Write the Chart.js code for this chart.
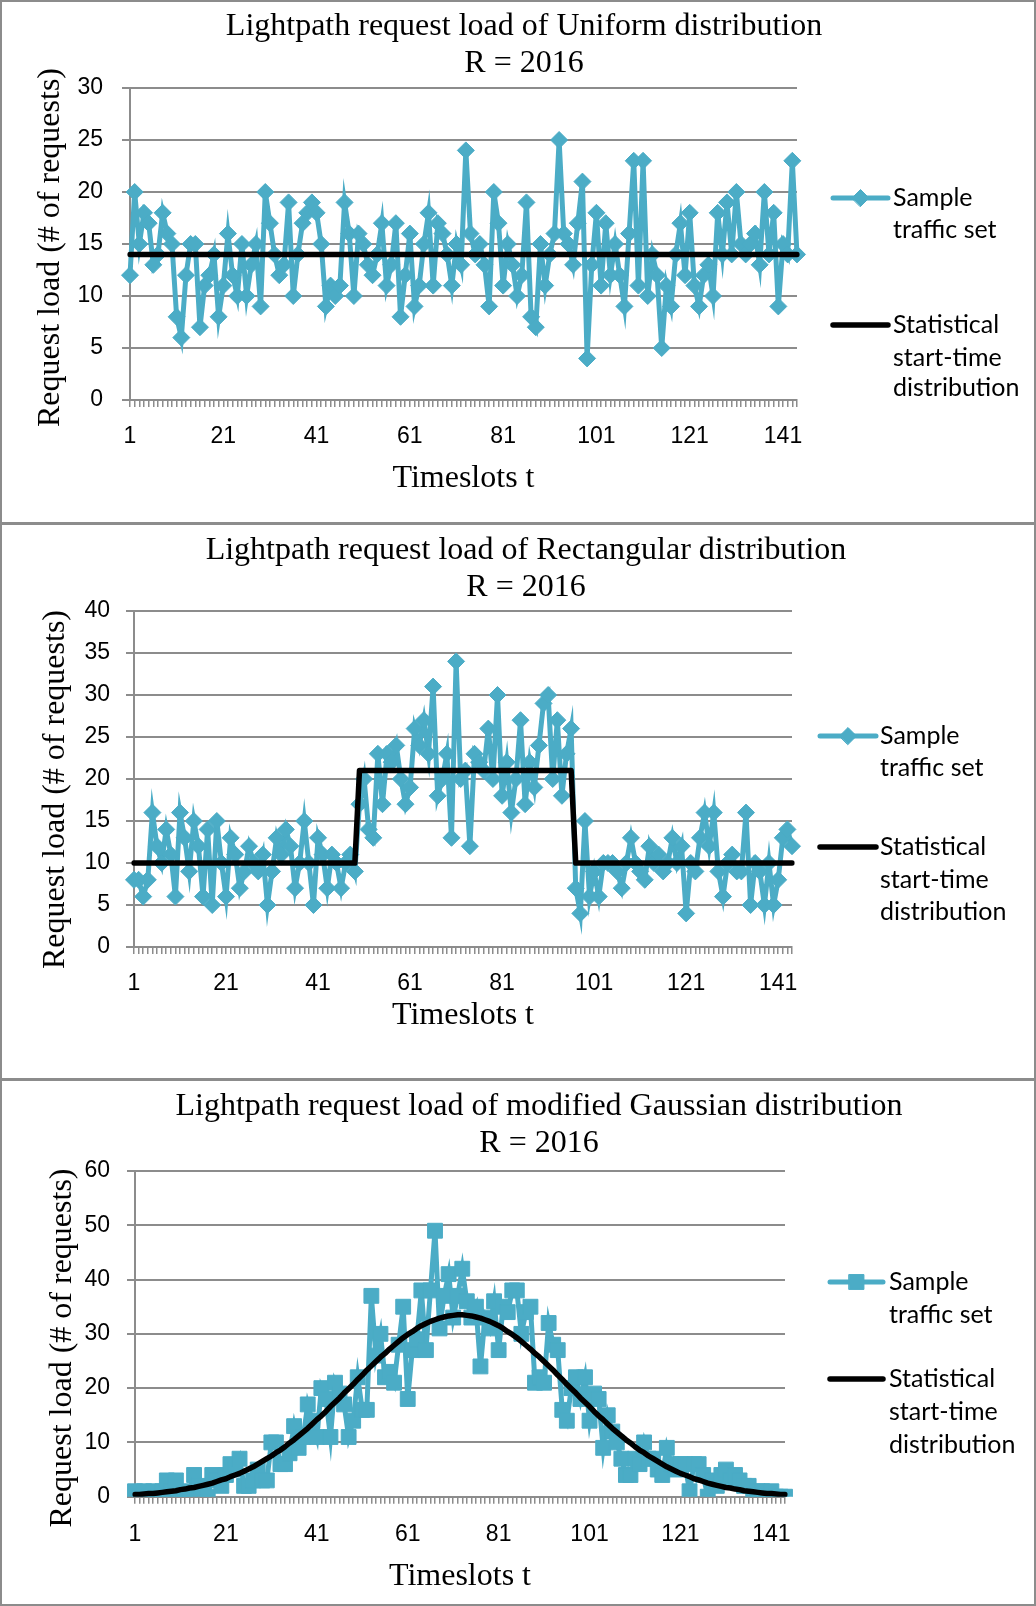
<!DOCTYPE html>
<html>
<head>
<meta charset="utf-8">
<title>Lightpath request load</title>
<script src="https://cdn.jsdelivr.net/npm/chart.js@4.4.1/dist/chart.umd.min.js"></script>
<style>
body { margin: 0; background: #fff; }
#page { position: relative; width: 1036px; height: 1606px; overflow: hidden; }
#page canvas { position: absolute; left: 0; }
.rule { position: absolute; left: 0; width: 1036px; background: #8c8c8c; }
#frame { position: absolute; left: 0; top: 0; width: 1036px; height: 1606px; box-sizing: border-box; border: 2px solid #8c8c8c; pointer-events: none; }
</style>
</head>
<body>
<div id="page">
  <canvas id="uniform" width="1036" height="522" style="top:0"></canvas>
  <canvas id="rectangular" width="1036" height="553" style="top:525px"></canvas>
  <canvas id="gaussian" width="1036" height="525" style="top:1081px"></canvas>
  <div class="rule" style="top:522px;height:3px"></div>
  <div class="rule" style="top:1078px;height:3px"></div>
  <div id="frame"></div>
</div>
<script>
// timeslots 1..144 (R = 2016 requests spread over 144 slots)
var timeslots = [];
for (var t = 1; t <= 144; t++) timeslots.push(t);

var uniformSample = [
  12, 20, 15, 18, 17, 13, 14, 18, 16, 15, 8, 6,
  12, 15, 15, 7, 11, 12, 14, 8, 11, 16, 12, 10,
  15, 10, 13, 15, 9, 20, 17, 14, 12, 13, 19, 10,
  14, 17, 18, 19, 18, 15, 9, 11, 10, 11, 19, 16,
  10, 16, 15, 13, 12, 14, 17, 11, 13, 17, 8, 12,
  16, 9, 11, 15, 18, 11, 17, 16, 14, 11, 15, 13,
  24, 16, 14, 15, 13, 9, 20, 17, 11, 15, 13, 10,
  12, 19, 8, 7, 15, 11, 14, 16, 25, 16, 15, 13,
  17, 21, 4, 13, 18, 11, 17, 12, 15, 12, 9, 16,
  23, 11, 23, 10, 14, 12, 5, 11, 9, 14, 17, 12,
  18, 11, 9, 12, 13, 10, 18, 14, 19, 14, 20, 15,
  14, 15, 16, 13, 20, 14, 18, 9, 15, 14, 23, 14
];
var uniformStat = [
  14, 14, 14, 14, 14, 14, 14, 14, 14, 14, 14, 14, 14, 14, 14, 14, 14, 14, 14, 14, 14, 14, 14, 14,
  14, 14, 14, 14, 14, 14, 14, 14, 14, 14, 14, 14, 14, 14, 14, 14, 14, 14, 14, 14, 14, 14, 14, 14,
  14, 14, 14, 14, 14, 14, 14, 14, 14, 14, 14, 14, 14, 14, 14, 14, 14, 14, 14, 14, 14, 14, 14, 14,
  14, 14, 14, 14, 14, 14, 14, 14, 14, 14, 14, 14, 14, 14, 14, 14, 14, 14, 14, 14, 14, 14, 14, 14,
  14, 14, 14, 14, 14, 14, 14, 14, 14, 14, 14, 14, 14, 14, 14, 14, 14, 14, 14, 14, 14, 14, 14, 14,
  14, 14, 14, 14, 14, 14, 14, 14, 14, 14, 14, 14, 14, 14, 14, 14, 14, 14, 14, 14, 14, 14, 14, 14
];

var rectSample = [
  8, 8, 6, 8, 16, 12, 10, 14, 11, 6, 16, 13,
  9, 15, 12, 6, 14, 5, 15, 10, 6, 13, 11, 7,
  9, 12, 10, 9, 11, 5, 9, 13, 11, 14, 12, 7,
  10, 15, 10, 5, 13, 11, 7, 11, 10, 7, 10, 11,
  9, 17, 20, 14, 13, 23, 17, 23, 22, 24, 20, 17,
  19, 26, 24, 27, 23, 31, 18, 20, 23, 13, 34, 20,
  21, 12, 23, 22, 21, 26, 20, 30, 18, 22, 16, 20,
  27, 17, 22, 19, 24, 29, 30, 20, 27, 18, 23, 26,
  7, 4, 15, 6, 9, 6, 10, 10, 10, 9, 7, 10,
  13, 10, 9, 8, 12, 10, 11, 9, 10, 13, 10, 12,
  4, 10, 9, 13, 16, 12, 16, 9, 6, 10, 11, 9,
  9, 16, 5, 10, 9, 5, 10, 5, 8, 13, 14, 12
];
var rectStat = [
  10, 10, 10, 10, 10, 10, 10, 10, 10, 10, 10, 10, 10, 10, 10, 10, 10, 10, 10, 10, 10, 10, 10, 10,
  10, 10, 10, 10, 10, 10, 10, 10, 10, 10, 10, 10, 10, 10, 10, 10, 10, 10, 10, 10, 10, 10, 10, 10,
  10, 21, 21, 21, 21, 21, 21, 21, 21, 21, 21, 21, 21, 21, 21, 21, 21, 21, 21, 21, 21, 21, 21, 21,
  21, 21, 21, 21, 21, 21, 21, 21, 21, 21, 21, 21, 21, 21, 21, 21, 21, 21, 21, 21, 21, 21, 21, 21,
  10, 10, 10, 10, 10, 10, 10, 10, 10, 10, 10, 10, 10, 10, 10, 10, 10, 10, 10, 10, 10, 10, 10, 10,
  10, 10, 10, 10, 10, 10, 10, 10, 10, 10, 10, 10, 10, 10, 10, 10, 10, 10, 10, 10, 10, 10, 10, 10
];

var gaussSample = [
  1, 0, 1, 0, 1, 0, 1, 3, 1, 3, 0, 0,
  1, 4, 2, 1, 0, 4, 3, 2, 4, 6, 5, 7,
  2, 2, 3, 5, 3, 3, 10, 10, 6, 6, 8, 13,
  9, 11, 17, 14, 11, 20, 18, 11, 21, 19, 17, 11,
  14, 22, 16, 16, 37, 26, 30, 22, 23, 21, 28, 35,
  18, 27, 29, 38, 27, 38, 49, 31, 37, 41, 33, 37,
  42, 36, 33, 35, 24, 33, 31, 36, 27, 35, 34, 38,
  38, 30, 34, 35, 21, 22, 21, 32, 28, 27, 16, 14,
  20, 22, 18, 22, 14, 19, 18, 9, 15, 12, 10, 7,
  4, 4, 7, 6, 10, 7, 7, 5, 4, 9, 6, 5,
  6, 6, 1, 6, 6, 4, 0, 3, 2, 4, 5, 3,
  4, 3, 2, 2, 0, 1, 1, 0, 1, 0, 0, 0
];
var gaussStat = [
  0.4, 0.4, 0.5, 0.6, 0.6, 0.7, 0.8, 0.9, 1.0, 1.1, 1.3, 1.4,
  1.6, 1.7, 1.9, 2.1, 2.3, 2.5, 2.8, 3.1, 3.3, 3.7, 4.0, 4.3,
  4.7, 5.1, 5.5, 6.0, 6.5, 7.0, 7.5, 8.1, 8.6, 9.2, 9.9, 10.5,
  11.2, 11.9, 12.6, 13.4, 14.2, 14.9, 15.7, 16.6, 17.4, 18.2, 19.1, 19.9,
  20.7, 21.6, 22.4, 23.3, 24.1, 24.9, 25.7, 26.4, 27.2, 27.9, 28.6, 29.3,
  29.9, 30.4, 31.0, 31.5, 31.9, 32.3, 32.6, 32.9, 33.1, 33.3, 33.4, 33.5,
  33.5, 33.4, 33.3, 33.1, 32.9, 32.6, 32.3, 31.9, 31.5, 31.0, 30.4, 29.9,
  29.3, 28.6, 27.9, 27.2, 26.4, 25.7, 24.9, 24.1, 23.3, 22.4, 21.6, 20.7,
  19.9, 19.1, 18.2, 17.4, 16.6, 15.7, 14.9, 14.2, 13.4, 12.6, 11.9, 11.2,
  10.5, 9.9, 9.2, 8.6, 8.1, 7.5, 7.0, 6.5, 6.0, 5.5, 5.1, 4.7,
  4.3, 4.0, 3.7, 3.3, 3.1, 2.8, 2.5, 2.3, 2.1, 1.9, 1.7, 1.6,
  1.4, 1.3, 1.1, 1.0, 0.9, 0.8, 0.7, 0.6, 0.6, 0.5, 0.4, 0.4
];

var teal = '#4bacc6';
var grey = '#8c8c8c';
var tickFont = { family: 'Liberation Sans', size: 23 };
var titleFont = { family: 'Liberation Serif', size: 32 };
var yTitle = 'Request load (# of requests)';

// chart title, y-axis title and the two-entry legend on the right
function panelText(p) {
  return {
    id: 'panelText',
    afterDraw: function(chart) {
      var ctx = chart.ctx;
      var lg = p.legend;
      var midX = (lg.lineX[0] + lg.lineX[1]) / 2;
      ctx.save();
      ctx.fillStyle = '#000';
      ctx.textBaseline = 'middle';
      ctx.textAlign = 'center';
      ctx.font = '32px "Liberation Serif"';
      p.title.forEach(function(line, i) { ctx.fillText(line, p.titleX, p.titleY[i]); });

      ctx.save();
      ctx.translate(p.yTitleAt[0], p.yTitleAt[1]);
      ctx.rotate(-Math.PI / 2);
      ctx.fillText(yTitle, 0, 0);
      ctx.restore();

      ctx.textAlign = 'left';
      lg.items.forEach(function(item) {
        var ds = chart.data.datasets[item.dataset];
        var y = item.y[0];
        ctx.strokeStyle = ds.borderColor;
        ctx.lineWidth = ds.borderWidth;
        ctx.lineCap = 'round';
        ctx.beginPath();
        ctx.moveTo(lg.lineX[0], y);
        ctx.lineTo(lg.lineX[1], y);
        ctx.stroke();
        if (ds.pointRadius) {
          ctx.fillStyle = ds.pointBackgroundColor;
          ctx.lineWidth = ds.pointBorderWidth;
          Chart.helpers.drawPoint(ctx, { pointStyle: ds.pointStyle, radius: ds.pointRadius, borderWidth: ds.pointBorderWidth, rotation: 0 }, midX, y);
        }
        ctx.fillStyle = '#000';
        ctx.font = '25px Lato';
        item.text.forEach(function(line, j) { ctx.fillText(line, lg.textX, item.y[j]); });
      });
      ctx.restore();
    }
  };
}

function buildChart(id, p) {
  return new Chart(document.getElementById(id), {
    type: 'line',
    data: {
      labels: timeslots,
      datasets: [{
        label: 'Sample traffic set',
        data: p.sample,
        borderColor: teal,
        backgroundColor: teal,
        borderWidth: 5,
        tension: 0,
        pointStyle: p.marker,
        pointRadius: p.markerRadius,
        pointBorderWidth: 1,
        pointBackgroundColor: teal,
        pointBorderColor: teal,
        order: 1
      }, {
        label: 'Statistical start-time distribution',
        data: p.statistical,
        borderColor: '#000',
        borderWidth: 5.5,
        borderCapStyle: 'round',
        borderJoinStyle: 'round',
        pointRadius: 0,
        tension: 0,
        order: 0
      }]
    },
    options: {
      responsive: false,
      animation: false,
      events: [],
      layout: { padding: { top: p.area.top, right: 1036 - p.area.right, bottom: 0, left: 0 } },
      plugins: { legend: { display: false }, tooltip: { enabled: false } },
      scales: {
        x: {
          type: 'category',
          offset: false,
          grid: { drawOnChartArea: false, tickLength: 7, color: grey, lineWidth: 1.5 },
          border: { color: grey, width: 2 },
          ticks: {
            autoSkip: false,
            maxRotation: 0,
            minRotation: 0,
            padding: p.xTickPad,
            color: '#000',
            font: tickFont,
            callback: function(value, index) { return index % 20 === 0 ? timeslots[index] : ''; }
          },
          title: { display: true, text: 'Timeslots t', color: '#000', font: titleFont, padding: { top: 0, bottom: p.xTitlePad } },
          afterFit: function(scale) { scale.height = p.height - p.area.bottom; }
        },
        y: {
          min: 0,
          max: p.yMax,
          grid: { color: grey, lineWidth: 2, tickLength: 8 },
          border: { color: grey, width: 2 },
          ticks: { stepSize: p.yStep, padding: p.yTickPad, color: '#000', font: tickFont },
          afterFit: function(scale) { scale.width = p.area.left; }
        }
      }
    },
    plugins: [panelText(p)]
  });
}

buildChart('uniform', {
  sample: uniformSample, statistical: uniformStat,
  marker: 'rectRot', markerRadius: 8.5,
  height: 522, area: { top: 88, bottom: 400, left: 130, right: 797 },
  yMax: 30, yStep: 5, yTickPad: 19, xTickPad: 15.7, xTitlePad: 24,
  title: ['Lightpath request load of Uniform distribution', 'R = 2016'], titleX: 524, titleY: [27, 63.5],
  yTitleAt: [51, 247.5],
  legend: { lineX: [833, 888], textX: 893, items: [
    { dataset: 0, text: ['Sample', 'traffic set'], y: [198, 230] },
    { dataset: 1, text: ['Statistical', 'start-time', 'distribution'], y: [325, 358, 388] }
  ] }
});

buildChart('rectangular', {
  sample: rectSample, statistical: rectStat,
  marker: 'rectRot', markerRadius: 8.5,
  height: 553, area: { top: 86, bottom: 422, left: 134, right: 792 },
  yMax: 40, yStep: 5, yTickPad: 16, xTickPad: 16.2, xTitlePad: 43.5,
  title: ['Lightpath request load of Rectangular distribution', 'R = 2016'], titleX: 526, titleY: [26, 63],
  yTitleAt: [56, 264.5],
  legend: { lineX: [820, 876], textX: 880, items: [
    { dataset: 0, text: ['Sample', 'traffic set'], y: [211, 243] },
    { dataset: 1, text: ['Statistical', 'start-time', 'distribution'], y: [322, 355, 387] }
  ] }
});

buildChart('gaussian', {
  sample: gaussSample, statistical: gaussStat,
  marker: 'rect', markerRadius: 10.5,
  height: 525, area: { top: 90, bottom: 415.7, left: 135, right: 785 },
  yMax: 60, yStep: 10, yTickPad: 17, xTickPad: 17.5, xTitlePad: 10.4,
  title: ['Lightpath request load of modified Gaussian distribution', 'R = 2016'], titleX: 539, titleY: [26, 62.6],
  yTitleAt: [63, 267],
  legend: { lineX: [830, 883], textX: 889, items: [
    { dataset: 0, text: ['Sample', 'traffic set'], y: [201, 234] },
    { dataset: 1, text: ['Statistical', 'start-time', 'distribution'], y: [298, 331, 364] }
  ] }
});
</script>
</body>
</html>
